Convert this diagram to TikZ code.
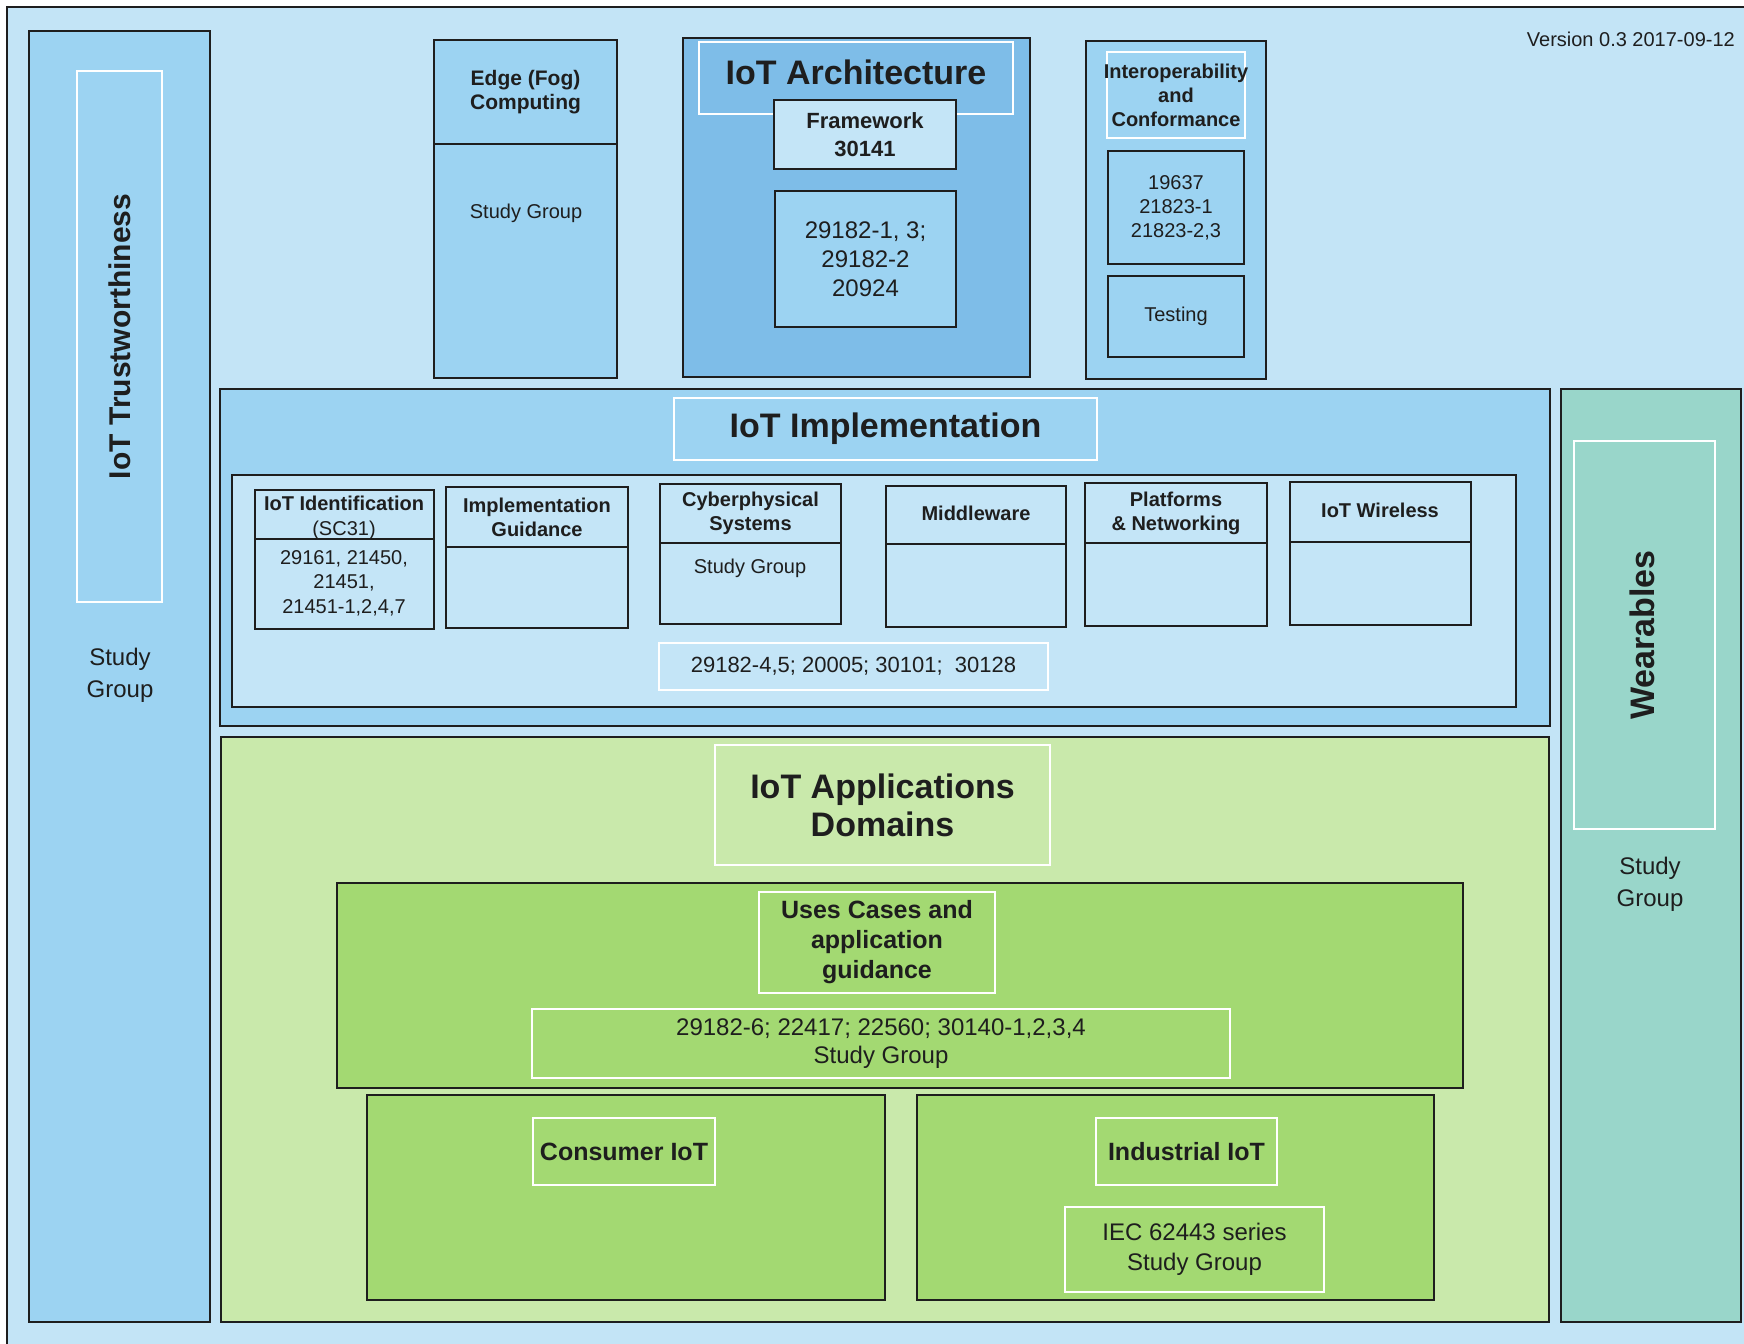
\documentclass[tikz,border=0pt]{standalone}
\usepackage{fontspec}
\setmainfont{Liberation Sans}
\usetikzlibrary{fit}

\definecolor{pagebg}{HTML}{C3E4F6}
\definecolor{skyblue}{HTML}{9CD3F2}
\definecolor{deepblue}{HTML}{7EBDE8}
\definecolor{paleblue}{HTML}{C4E5F7}
\definecolor{palegreen}{HTML}{C9E9AB}
\definecolor{leafgreen}{HTML}{A3D972}
\definecolor{wearteal}{HTML}{99D6CA}
\definecolor{ink}{HTML}{1E1E1E}

\begin{document}
\begin{tikzpicture}[x=1pt, y=-1pt,
	box/.style={rectangle, draw=ink, line width=2.4pt, inner sep=0pt},
	frame/.style={rectangle, draw=white, line width=2pt, inner sep=0pt},
	txt/.style={text=ink, align=center, inner sep=0pt},
	title/.style={txt, font=\bfseries\fontsize{34}{38}\selectfont},
	sidetitle/.style={txt, rotate=90, font=\bfseries\fontsize{#1}{#1}\selectfont},
	head/.style={txt, font=\bfseries\fontsize{20}{24}\selectfont},
	body/.style={txt, font=\fontsize{20}{24.5}\selectfont},
	bighead/.style={txt, font=\bfseries\fontsize{25}{30}\selectfont},
	bigbody/.style={txt, font=\fontsize{24}{29}\selectfont}]
	\useasboundingbox (0,0) rectangle (1744,1343);
	\fill[white] (0,0) rectangle (1744,1343);
	\node[box, fill=pagebg, line width=2pt, fit={(7,7) (1760,1360)}] (page) {};
	\node[txt, anchor=east, font=\fontsize{20}{23}\selectfont] (version) at (1735,39) {Version 0.3 2017-09-12};

	% left column
	\node[box, fill=skyblue, fit={(29,31) (210,1322)}] (trust) {};
	\node[frame, fit={(77,71) (162,602)}] (trustframe) {};
	\node[sidetitle=30] (trusttitle) at (trustframe.center) {IoT Trustworthiness};
	\node[txt, font=\fontsize{24}{32}\selectfont] (trustsg) at (120,675) {Study\\Group};

	% top row
	\node[box, fill=skyblue, fit={(434,40) (617,144)}] (edgehead) {};
	\node[box, fill=skyblue, fit={(434,144) (617,378)}] (edgebody) {};
	\node[txt, font=\bfseries\fontsize{21}{24.5}\selectfont] (edgetitle) at (edgehead.center) {Edge (Fog)\\Computing};
	\node[body] (edgesg) at (526,213) {Study Group};

	\node[box, fill=deepblue, fit={(683,38) (1030,377)}] (arch) {};
	\node[frame, fit={(699,42) (1013,114)}] (archframe) {};
	\node[title] (archtitle) at (856,72) {IoT Architecture};
	\node[box, fill=paleblue, fit={(774,100) (956,169)}] (frmwk) {};
	\node[txt, font=\bfseries\fontsize{22}{28}\selectfont] (frmwktext) at (frmwk.center) {Framework\\30141};
	\node[box, fill=skyblue, fit={(775,191) (956,327)}] (archnum) {};
	\node[bigbody] (archnumtext) at (archnum.center) {29182-1, 3;\\29182-2\\20924};

	\node[box, fill=skyblue, fit={(1086,41) (1266,379)}] (interop) {};
	\node[frame, fit={(1107,52) (1245,138)}] (interopframe) {};
	\node[head] (interoptitle) at (interopframe.center) {Interoperability\\and\\Conformance};
	\node[box, fill=skyblue, fit={(1108,151) (1244,264)}] (interopnum) {};
	\node[txt, font=\fontsize{20}{24}\selectfont] (interopnumtext) at (interopnum.center) {19637\\21823-1\\21823-2,3};
	\node[box, fill=skyblue, fit={(1108,276) (1244,357)}] (testing) {};
	\node[body] (testingtext) at (testing.center) {Testing};

	% implementation layer
	\node[box, fill=skyblue, fit={(220,389) (1550,726)}] (impl) {};
	\node[frame, fit={(674,398) (1097,460)}] (implframe) {};
	\node[title] (impltitle) at (implframe.center) {IoT Implementation};
	\node[box, fill=paleblue, fit={(232,475) (1516,707)}] (implin) {};

	\node[box, fill=paleblue, fit={(255,490) (434,539)}] (identhead) {};
	\node[box, fill=paleblue, fit={(255,539) (434,629)}] (identbody) {};
	\node[txt, font=\fontsize{20}{25}\selectfont] (identtitle) at (344,518) {\textbf{IoT Identification}\\(SC31)};
	\node[body] (identnum) at (344,583) {29161, 21450,\\21451,\\21451-1,2,4,7};

	\node[box, fill=paleblue, fit={(446,487) (628,547)}] (guidehead) {};
	\node[box, fill=paleblue, fit={(446,547) (628,628)}] (guidebody) {};
	\node[head] (guidetitle) at (guidehead.center) {Implementation\\Guidance};

	\node[box, fill=paleblue, fit={(660,484) (841,543)}] (cyberhead) {};
	\node[box, fill=paleblue, fit={(660,543) (841,624)}] (cyberbody) {};
	\node[head] (cybertitle) at (cyberhead.center) {Cyberphysical\\Systems};
	\node[body] (cybersg) at (750,568) {Study Group};

	\node[box, fill=paleblue, fit={(886,486) (1066,544)}] (midhead) {};
	\node[box, fill=paleblue, fit={(886,544) (1066,627)}] (midbody) {};
	\node[head] (midtitle) at (976,513) {Middleware};

	\node[box, fill=paleblue, fit={(1085,483) (1267,543)}] (plathead) {};
	\node[box, fill=paleblue, fit={(1085,543) (1267,626)}] (platbody) {};
	\node[head] (plattitle) at (plathead.center) {Platforms\\\& Networking};

	\node[box, fill=paleblue, fit={(1290,482) (1471,542)}] (wirehead) {};
	\node[box, fill=paleblue, fit={(1290,542) (1471,625)}] (wirebody) {};
	\node[head] (wiretitle) at (1380,510) {IoT Wireless};

	\node[frame, line width=1.5pt, fit={(659,643) (1048,690)}] (implnum) {};
	\node[txt, font=\fontsize{22}{26}\selectfont] (implnumtext) at (implnum.center) {29182-4,5; 20005; 30101;\ \ 30128};

	% application domains
	\node[box, fill=palegreen, fit={(221,737) (1549,1322)}] (apps) {};
	\node[frame, fit={(715,745) (1050,865)}] (appsframe) {};
	\node[title] (appstitle) at (appsframe.center) {IoT Applications\\Domains};

	\node[box, fill=leafgreen, fit={(337,883) (1463,1088)}] (uses) {};
	\node[frame, fit={(759,892) (995,993)}] (usesframe) {};
	\node[bighead] (usestitle) at (usesframe.center) {Uses Cases and\\application\\guidance};
	\node[frame, fit={(532,1009) (1230,1078)}] (usesnum) {};
	\node[txt, font=\fontsize{24}{28}\selectfont] (usesnumtext) at (usesnum.center) {29182-6; 22417; 22560; 30140-1,2,3,4\\Study Group};

	\node[box, fill=leafgreen, fit={(367,1095) (885,1300)}] (consumer) {};
	\node[frame, fit={(533,1118) (715,1185)}] (consumerframe) {};
	\node[bighead] (consumertitle) at (consumerframe.center) {Consumer IoT};

	\node[box, fill=leafgreen, fit={(917,1095) (1434,1300)}] (industrial) {};
	\node[frame, fit={(1096,1118) (1277,1185)}] (industrialframe) {};
	\node[bighead] (industrialtitle) at (industrialframe.center) {Industrial IoT};
	\node[frame, fit={(1065,1207) (1324,1292)}] (iec) {};
	\node[txt, font=\fontsize{24}{30}\selectfont] (iectext) at (iec.center) {IEC 62443 series\\Study Group};

	% right column
	\node[box, fill=wearteal, fit={(1561,389) (1741,1322)}] (wear) {};
	\node[frame, fit={(1574,441) (1715,829)}] (wearframe) {};
	\node[sidetitle=34] (weartitle) at (1642,635) {Wearables};
	\node[txt, font=\fontsize{24}{32}\selectfont] (wearsg) at (1650,884) {Study\\Group};
\end{tikzpicture}
\end{document}
